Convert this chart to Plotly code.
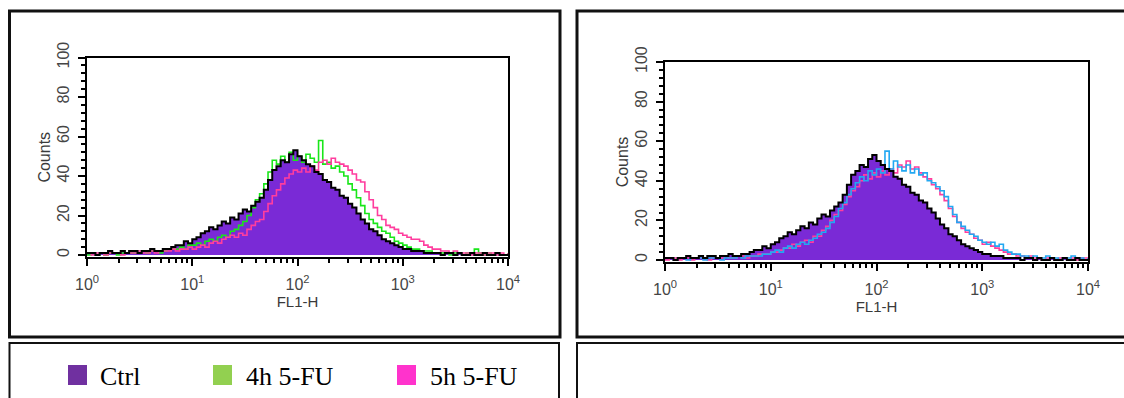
import plotly.graph_objects as go

# ---------------- data ----------------
# FL1-H channel positions, in decades (log10 of FL1-H)
LOG_FL1 = [
    0.00, 0.04, 0.08, 0.12, 0.16, 0.20, 0.24, 0.28, 0.32, 0.36, 0.40,
    0.44, 0.48, 0.52, 0.56, 0.60, 0.64, 0.68, 0.72, 0.76, 0.80,
    0.84, 0.88, 0.92, 0.96, 1.00, 1.04, 1.08, 1.12, 1.16, 1.20,
    1.24, 1.28, 1.32, 1.36, 1.40, 1.44, 1.48, 1.52, 1.56, 1.60,
    1.64, 1.68, 1.72, 1.76, 1.80, 1.84, 1.88, 1.92, 1.96, 2.00,
    2.04, 2.08, 2.12, 2.16, 2.20, 2.24, 2.28, 2.32, 2.36, 2.40,
    2.44, 2.48, 2.52, 2.56, 2.60, 2.64, 2.68, 2.72, 2.76, 2.80,
    2.84, 2.88, 2.92, 2.96, 3.00, 3.04, 3.08, 3.12, 3.16, 3.20,
    3.24, 3.28, 3.32, 3.36, 3.40, 3.44, 3.48, 3.52, 3.56, 3.60,
    3.64, 3.68, 3.72, 3.76, 3.80, 3.84, 3.88, 3.92, 3.96, 4.00,
]

CTRL = [
    1, 1, 0, 1, 1, 2, 1, 1, 2, 1, 2,
    2, 1, 2, 2, 3, 2, 2, 3, 3, 4,
    5, 5, 7, 6, 8, 9, 11, 12, 14, 13,
    15, 17, 16, 19, 18, 21, 23, 22, 25, 27,
    29, 33, 38, 43, 45, 48, 47, 51, 53, 50,
    48, 46, 45, 42, 41, 38, 37, 34, 33, 30,
    29, 26, 24, 21, 18, 16, 13, 12, 10, 8,
    7, 6, 5, 4, 3, 3, 2, 2, 2, 1,
    1, 1, 1, 0, 1, 1, 0, 1, 0, 0,
    1, 0, 0, 1, 0, 0, 1, 0, 0, 0,
]

FU_4H = [
    0, 1, 0, 1, 0, 1, 1, 0, 1, 1, 1,
    1, 1, 2, 1, 2, 2, 1, 2, 3, 3,
    3, 4, 3, 5, 5, 6, 5, 7, 8, 7,
    9, 10, 9, 12, 13, 15, 17, 20, 24, 28,
    31, 36, 42, 48, 46, 50, 47, 52, 48, 50,
    47, 51, 49, 47, 58, 46, 47, 44, 45, 42,
    40, 36, 33, 29, 25, 21, 18, 16, 14, 12,
    11, 9, 7, 6, 5, 4, 3, 3, 2, 2,
    2, 1, 1, 1, 1, 0, 1, 1, 0, 1,
    1, 3, 1, 0, 1, 0, 1, 0, 0, 1,
]

FU_5H_LEFT = [
    1, 0, 1, 1, 0, 1, 1, 1, 0, 1, 1,
    1, 2, 1, 1, 2, 1, 2, 2, 2, 3,
    2, 3, 3, 4, 3, 4, 5, 4, 6, 7,
    6, 8, 9, 10, 9, 11, 10, 13, 15, 17,
    18, 22, 26, 30, 33, 36, 39, 41, 43, 42,
    44, 42, 45, 43, 47, 48, 46, 49, 47, 46,
    45, 43, 41, 38, 37, 32, 28, 24, 20, 18,
    15, 14, 13, 11, 10, 9, 8, 8, 7, 5,
    4, 3, 3, 2, 2, 1, 2, 1, 1, 1,
    0, 1, 1, 0, 1, 1, 0, 1, 0, 1,
]

FU_5H_RIGHT = [
    0, 1, 1, 0, 1, 1, 0, 1, 1, 1, 0,
    1, 1, 1, 2, 1, 1, 2, 2, 1, 2,
    2, 3, 3, 3, 4, 4, 5, 6, 6, 8,
    7, 9, 10, 9, 12, 12, 15, 17, 20, 23,
    25, 28, 32, 35, 37, 40, 43, 41, 44, 42,
    45, 43, 46, 44, 48, 47, 50, 46, 47, 44,
    42, 41, 38, 36, 33, 30, 26, 22, 19, 16,
    14, 13, 11, 10, 8, 9, 7, 6, 5, 4,
    3, 3, 2, 2, 1, 2, 1, 1, 0, 1,
    1, 0, 1, 1, 0, 1, 0, 1, 1, 0,
]

BLUE_RIGHT = [
    1, 1, 0, 1, 1, 0, 1, 1, 1, 0, 1,
    1, 1, 0, 1, 1, 1, 2, 1, 2, 2,
    2, 2, 3, 3, 4, 5, 4, 6, 7, 6,
    8, 9, 8, 10, 11, 13, 14, 16, 19, 22,
    26, 29, 33, 36, 39, 42, 40, 45, 43, 46,
    44, 55, 46, 50, 47, 45, 48, 44, 46, 43,
    44, 40, 39, 37, 35, 32, 27, 23, 19, 17,
    15, 13, 12, 10, 9, 8, 9, 7, 8, 5,
    4, 3, 3, 2, 2, 1, 2, 1, 1, 2,
    1, 1, 0, 1, 1, 2, 1, 1, 0, 1,
]

X_TICK_VALUES = [1, 10, 100, 1000, 10000]
X_TICK_TEXT = ["10<sup>0</sup>", "10<sup>1</sup>", "10<sup>2</sup>",
               "10<sup>3</sup>", "10<sup>4</sup>"]
Y_TICK_VALUES = [0, 20, 40, 60, 80, 100]
X_TITLE = "FL1-H"
Y_TITLE = "Counts"

LEGEND_LABELS = ["Ctrl", "4h 5-FU", "5h 5-FU"]
LEGEND_COLORS = ["#7030A0", "#92D050", "#FF33CC"]

# ---------------- styles ----------------
FILL_PURPLE = "#7A2AD6"
GREEN = "#19E619"
PINK = "#FF3D9E"
BLUE = "#22A8F2"
W, H = 1124, 398

FL1 = [10 ** v for v in LOG_FL1]

fig = go.Figure()


def add_panel(xa, ya, overlays):
    # control: filled histogram
    fig.add_trace(go.Scatter(x=FL1, y=CTRL, mode="lines", xaxis=xa, yaxis=ya,
                             line=dict(width=0, shape="hv"), fill="tozeroy",
                             fillcolor=FILL_PURPLE, hoverinfo="skip"))
    for vals, col in overlays:
        fig.add_trace(go.Scatter(x=FL1, y=vals, mode="lines", xaxis=xa, yaxis=ya,
                                 line=dict(width=1.6, color=col, shape="hv")))
    fig.add_trace(go.Scatter(x=FL1, y=CTRL, mode="lines", xaxis=xa, yaxis=ya,
                             line=dict(width=2, color="black", shape="hv")))


add_panel("x", "y", [(FU_4H, GREEN), (FU_5H_LEFT, PINK)])
add_panel("x2", "y2", [(FU_5H_RIGHT, PINK), (BLUE_RIGHT, BLUE)])

TICKFONT = dict(family="Liberation Sans, Arial", size=16, color="#454545")


def xaxis_cfg(domain, anchor):
    return dict(type="log", range=[0, 4], domain=domain, anchor=anchor,
                automargin=False,
                tickmode="array", tickvals=X_TICK_VALUES, ticktext=X_TICK_TEXT,
                ticks="outside", ticklen=7, tickwidth=2, tickcolor="black",
                showline=True, linecolor="black", linewidth=2, mirror=True,
                showgrid=False, zeroline=False, tickfont=TICKFONT,
                ticklabelstandoff=5,
                minor=dict(ticks="outside", ticklen=4, tickwidth=1.5,
                           tickcolor="black", dtick="D1", showgrid=False),
                title=dict(text=X_TITLE, standoff=1,
                           font=dict(family="Liberation Sans, Arial", size=15,
                                     color="#3a3a3a")))


def yaxis_cfg(domain, anchor):
    return dict(range=[-1, 100], domain=domain, anchor=anchor,
                automargin=False,
                tickmode="array", tickvals=Y_TICK_VALUES, tickangle=-90,
                ticks="outside", ticklen=7, tickwidth=2, tickcolor="black",
                showline=True, linecolor="black", linewidth=2, mirror=True,
                showgrid=False, zeroline=False, tickfont=TICKFONT,
                ticklabelstandoff=3,
                minor=dict(ticks="outside", ticklen=4, tickwidth=1.5,
                           tickcolor="black", dtick=4, tick0=0, showgrid=False),
                title=dict(text=Y_TITLE, standoff=0,
                           font=dict(family="Liberation Sans, Arial", size=16,
                                     color="#3a3a3a")))


def py(px):
    return 1 - px / H


def pxx(px):
    return px / W


fig.update_layout(
    width=W, height=H, margin=dict(l=0, r=0, t=0, b=0, pad=0, autoexpand=False),
    paper_bgcolor="white", plot_bgcolor="white", showlegend=False,
    xaxis=xaxis_cfg([pxx(87), pxx(508)], "y"),
    yaxis=yaxis_cfg([py(257), py(57.5)], "x"),
    xaxis2=xaxis_cfg([pxx(665), pxx(1088)], "y2"),
    yaxis2=yaxis_cfg([py(262), py(62)], "x2"),
)

shapes = []
# outer frames
for x0, x1, y0, y1, w in [(9.5, 560, 11, 337, 3), (577, 1130, 11, 337, 3),
                          (9.5, 559, 343, 405, 2), (577, 1130, 343, 405, 2)]:
    shapes.append(dict(type="rect", xref="paper", yref="paper",
                       x0=pxx(x0), x1=pxx(x1), y0=py(y1), y1=py(y0),
                       line=dict(color="#111111", width=w)))

# legend swatches and labels
LEG_SWATCH_X = [68, 213, 397]
LEG_TEXT_X = [98, 244, 428]
annotations = []
for lab, col, sx, tx in zip(LEGEND_LABELS, LEGEND_COLORS, LEG_SWATCH_X, LEG_TEXT_X):
    shapes.append(dict(type="rect", xref="paper", yref="paper",
                       x0=pxx(sx), x1=pxx(sx + 19), y0=py(385), y1=py(365),
                       line=dict(width=0), fillcolor=col))
    annotations.append(dict(xref="paper", yref="paper", x=pxx(tx), y=py(376),
                            xanchor="left", yanchor="middle", showarrow=False,
                            text=lab, font=dict(family="Liberation Serif",
                                                size=26, color="black")))

fig.update_layout(shapes=shapes, annotations=annotations)
fig.write_html("out.html", config=dict(displayModeBar=False),
               post_script="document.body.style.margin='0';")
